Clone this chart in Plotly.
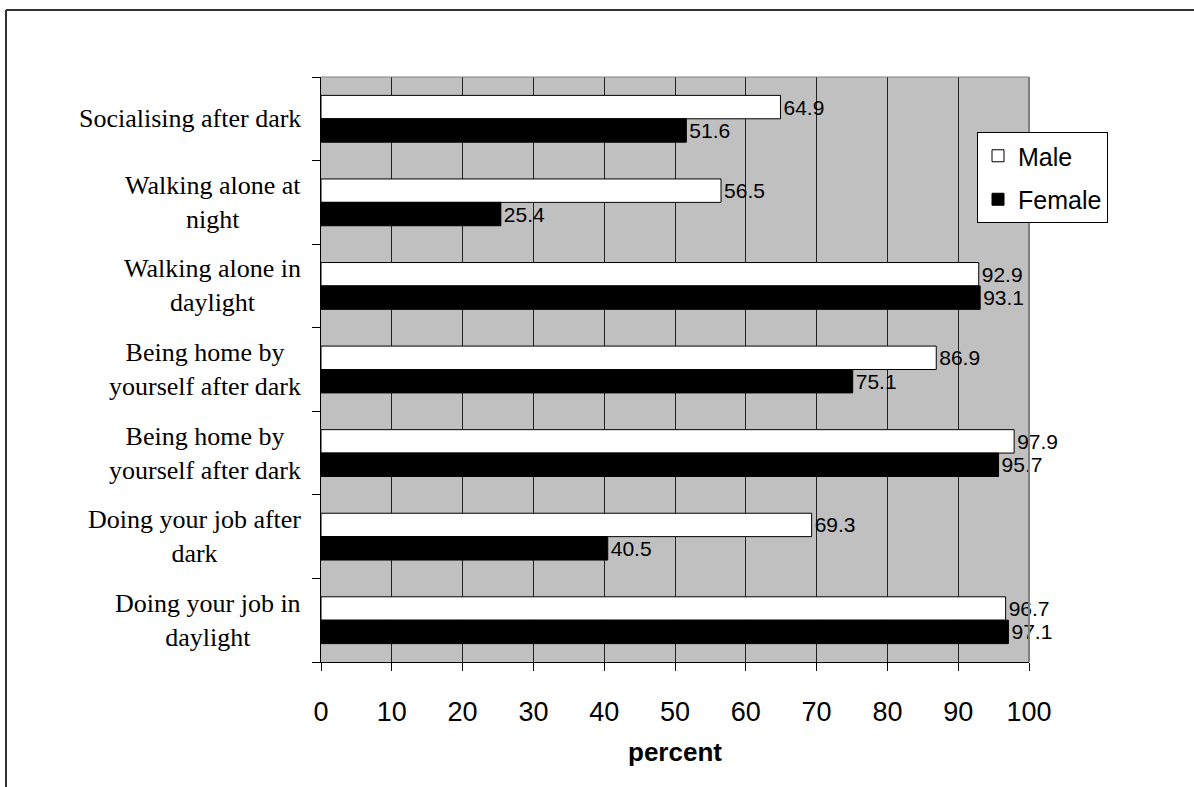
import plotly.graph_objects as go

# Survey categories, top to bottom
categories = [
    "Socialising after dark",
    "Walking alone at<br>night",
    "Walking alone in<br>daylight",
    "Being home by<br>yourself after dark",
    "Being home by<br>yourself after dark",
    "Doing your job after<br>dark",
    "Doing your job in<br>daylight",
]
male = [64.9, 56.5, 92.9, 86.9, 97.9, 69.3, 96.7]
female = [51.6, 25.4, 93.1, 75.1, 95.7, 40.5, 97.1]
x_ticks = [0, 10, 20, 30, 40, 50, 60, 70, 80, 90, 100]

W, H = 1194, 787
ML, MR, MT, MB = 321, 165, 77, 125
PW, PH = W - ML - MR, H - MT - MB

SANS = "Liberation Sans, Arial, sans-serif"
SERIF = "Liberation Serif, Times New Roman, serif"

pos = list(range(len(categories)))

fig = go.Figure()
fig.add_trace(go.Bar(
    name="Male", y=pos, x=male, orientation="h",
    marker=dict(color="white", line=dict(color="black", width=1)),
    text=[f"{v:.1f}" for v in male], textposition="outside",
    textfont=dict(family=SANS, size=21, color="black"),
    constraintext="none", cliponaxis=False, legendgroup="m",
))
fig.add_trace(go.Bar(
    name="Female", y=pos, x=female, orientation="h",
    marker=dict(color="black", line=dict(color="black", width=1)),
    text=[f"{v:.1f}" for v in female], textposition="outside",
    textfont=dict(family=SANS, size=21, color="black"),
    constraintext="none", cliponaxis=False, legendgroup="f",
))

# Category labels, centred multi-line text to the left of the axis
annotations = [
    dict(text=c, xref="paper", x=0, xanchor="right", xshift=-18,
         yref="y", y=i, yanchor="middle", align="center", showarrow=False,
         font=dict(family=SERIF, size=26, color="black"))
    for i, c in enumerate(categories)
]

def px_x(p):
    return (p - ML) / PW

def px_y(p):
    return (MT + PH - p) / PH

shapes = [
    # light plot-area border on top and right
    dict(type="line", xref="paper", yref="paper", x0=0, x1=1, y0=1, y1=1,
         line=dict(color="#808080", width=1)),
    dict(type="line", xref="paper", yref="paper", x0=1, x1=1, y0=0, y1=1,
         line=dict(color="#808080", width=2)),
    # outer chart frame
    dict(type="line", xref="paper", yref="paper", x0=px_x(6), x1=px_x(W + 5),
         y0=px_y(10), y1=px_y(10), line=dict(color="#333333", width=2)),
    dict(type="line", xref="paper", yref="paper", x0=px_x(6), x1=px_x(6),
         y0=px_y(10), y1=px_y(H + 5), line=dict(color="#333333", width=2)),
]

fig.update_layout(
    width=W, height=H,
    margin=dict(l=ML, r=MR, t=MT, b=MB, pad=0),
    paper_bgcolor="white", plot_bgcolor="#C0C0C0",
    barmode="group", bargap=0.44, bargroupgap=0,
    showlegend=True,
    legend=dict(
        x=px_x(977), y=px_y(132), xanchor="left", yanchor="top",
        bgcolor="white", bordercolor="black", borderwidth=1,
        font=dict(family=SANS, size=25, color="black"),
        traceorder="grouped", tracegroupgap=8,
    ),
    xaxis=dict(
        range=[0, 100], tickvals=x_ticks, ticktext=[str(t) for t in x_ticks],
        ticks="outside", ticklen=8, tickcolor="black", tickwidth=1,
        ticklabelstandoff=18,
        showline=True, linecolor="black", linewidth=1,
        showgrid=True, gridcolor="#222222", gridwidth=1,
        zeroline=False,
        tickfont=dict(family=SANS, size=27, color="black"),
        title=dict(text="<b>percent</b>", standoff=16,
                   font=dict(family=SANS, size=26, color="black")),
    ),
    yaxis=dict(
        range=[len(categories) - 0.5, -0.5],
        tickvals=pos, ticktext=[""] * len(pos), ticks="",
        minor=dict(tickvals=[i - 0.5 for i in range(len(pos) + 1)],
                   ticks="outside", ticklen=8, tickcolor="black",
                   tickwidth=1, showgrid=False),
        showline=True, linecolor="black", linewidth=1,
        showgrid=False, zeroline=False,
    ),
    annotations=annotations,
    shapes=shapes,
)

fig.write_html("out.html")
